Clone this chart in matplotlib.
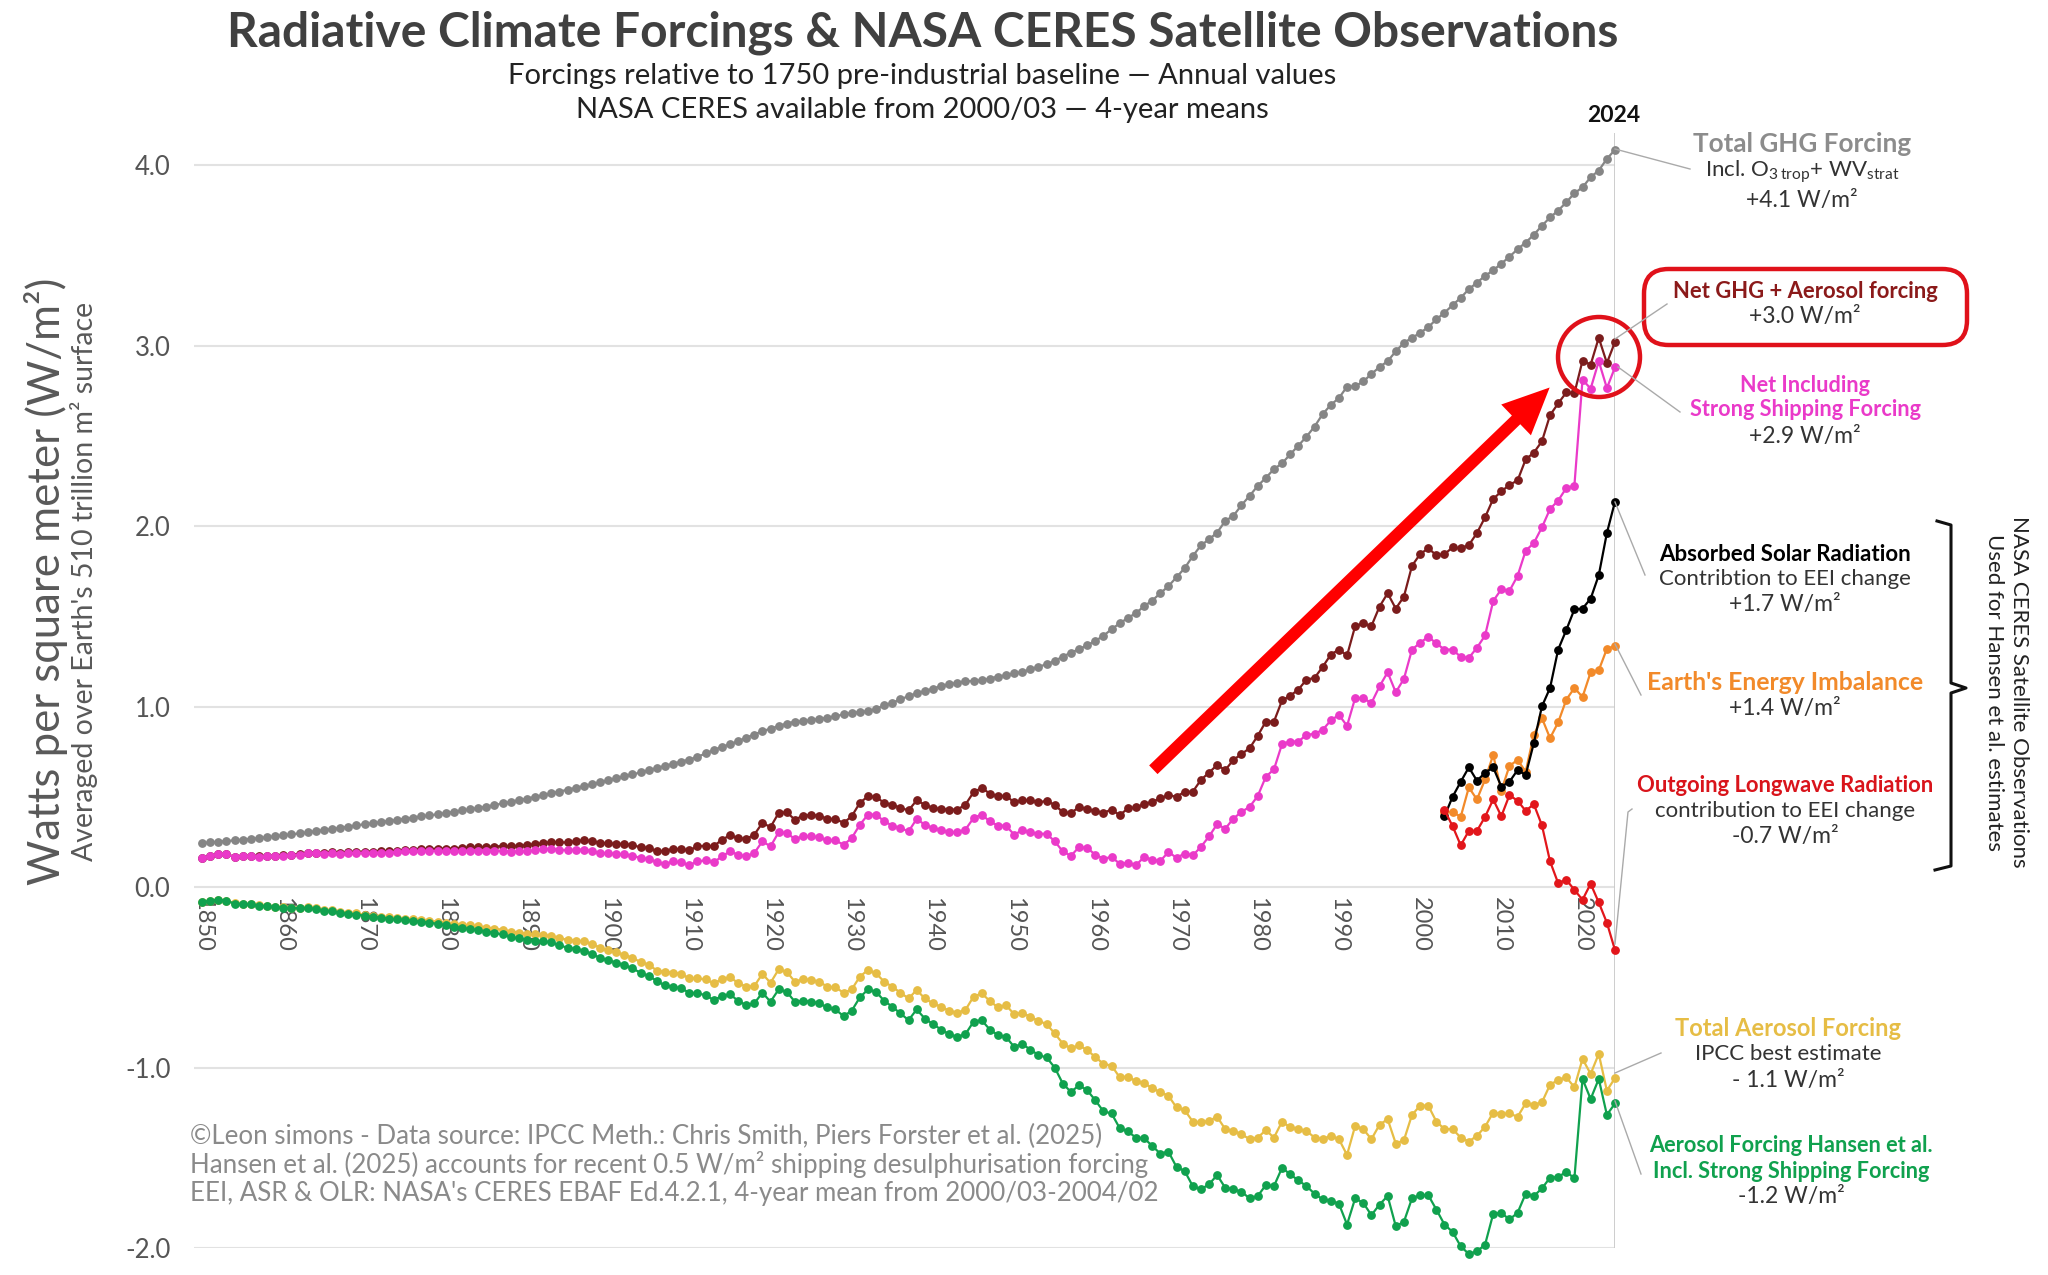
import numpy as np
import matplotlib
matplotlib.use("Agg")
import matplotlib.pyplot as plt
from matplotlib.patches import FancyBboxPatch, Ellipse, FancyArrowPatch
from matplotlib.lines import Line2D

plt.rcParams['font.family'] = ['Lato', 'DejaVu Sans']
plt.rcParams['mathtext.fontset'] = 'custom'
plt.rcParams['mathtext.rm'] = 'Lato'

# ---- data (W/m2) ----
years = list(range(1850, 2025))
ceres_years = list(range(2003, 2025))

ghg_total = [
    0.244, 0.248, 0.252, 0.256, 0.259, 0.264, 0.268, 0.272, 0.277, 0.282,
    0.288, 0.293, 0.298, 0.304, 0.310, 0.316, 0.322, 0.329, 0.335, 0.342,
    0.349, 0.355, 0.361, 0.367, 0.373, 0.380, 0.386, 0.392, 0.398, 0.404,
    0.411, 0.418, 0.425, 0.432, 0.439, 0.446, 0.455, 0.464, 0.473, 0.482,
    0.491, 0.500, 0.510, 0.520, 0.530, 0.540, 0.550, 0.560, 0.570, 0.581,
    0.592, 0.603, 0.614, 0.625, 0.636, 0.648, 0.660, 0.672, 0.684, 0.696,
    0.707, 0.722, 0.741, 0.759, 0.778, 0.791, 0.809, 0.828, 0.846, 0.865,
    0.878, 0.893, 0.907, 0.917, 0.920, 0.926, 0.933, 0.939, 0.948, 0.957,
    0.967, 0.970, 0.976, 0.989, 1.007, 1.022, 1.041, 1.059, 1.074, 1.087,
    1.100, 1.115, 1.124, 1.133, 1.141, 1.143, 1.146, 1.156, 1.167, 1.174,
    1.185, 1.193, 1.207, 1.222, 1.235, 1.254, 1.278, 1.300, 1.319, 1.341,
    1.365, 1.393, 1.430, 1.462, 1.492, 1.519, 1.557, 1.588, 1.629, 1.668,
    1.718, 1.768, 1.835, 1.894, 1.928, 1.965, 2.030, 2.058, 2.117, 2.169,
    2.224, 2.269, 2.317, 2.349, 2.399, 2.447, 2.497, 2.553, 2.622, 2.673,
    2.711, 2.774, 2.776, 2.803, 2.844, 2.883, 2.915, 2.970, 3.017, 3.045,
    3.072, 3.104, 3.147, 3.184, 3.226, 3.267, 3.314, 3.351, 3.388, 3.419,
    3.456, 3.494, 3.536, 3.573, 3.616, 3.666, 3.712, 3.750, 3.796, 3.846,
    3.879, 3.935, 3.972, 4.037, 4.087]

aerosol_ipcc = [
    -0.083, -0.075, -0.070, -0.074, -0.090, -0.093, -0.094, -0.100, -0.104, -0.108,
    -0.112, -0.113, -0.113, -0.112, -0.118, -0.126, -0.128, -0.138, -0.141, -0.146,
    -0.152, -0.158, -0.163, -0.168, -0.170, -0.174, -0.178, -0.182, -0.186, -0.191,
    -0.198, -0.204, -0.208, -0.212, -0.218, -0.224, -0.230, -0.236, -0.246, -0.252,
    -0.258, -0.262, -0.266, -0.270, -0.282, -0.292, -0.296, -0.300, -0.315, -0.335,
    -0.350, -0.362, -0.375, -0.392, -0.415, -0.430, -0.462, -0.470, -0.474, -0.481,
    -0.506, -0.506, -0.511, -0.533, -0.511, -0.500, -0.530, -0.552, -0.548, -0.481,
    -0.530, -0.456, -0.469, -0.524, -0.511, -0.515, -0.524, -0.552, -0.556, -0.585,
    -0.567, -0.496, -0.459, -0.478, -0.524, -0.552, -0.585, -0.617, -0.570, -0.617,
    -0.644, -0.663, -0.685, -0.696, -0.681, -0.607, -0.589, -0.630, -0.667, -0.654,
    -0.704, -0.696, -0.719, -0.741, -0.759, -0.811, -0.867, -0.894, -0.876, -0.904,
    -0.941, -0.980, -0.989, -1.054, -1.050, -1.076, -1.087, -1.113, -1.137, -1.156,
    -1.221, -1.236, -1.299, -1.304, -1.295, -1.273, -1.341, -1.351, -1.369, -1.397,
    -1.388, -1.347, -1.388, -1.299, -1.332, -1.341, -1.351, -1.388, -1.397, -1.378,
    -1.397, -1.484, -1.323, -1.341, -1.397, -1.317, -1.286, -1.421, -1.403, -1.262,
    -1.211, -1.211, -1.299, -1.341, -1.341, -1.388, -1.410, -1.378, -1.328, -1.249,
    -1.258, -1.254, -1.273, -1.198, -1.206, -1.193, -1.095, -1.069, -1.054, -1.109,
    -0.952, -1.035, -0.924, -1.128, -1.058]

aerosol_hansen = [
    -0.083, -0.075, -0.070, -0.074, -0.092, -0.094, -0.096, -0.103, -0.107, -0.111,
    -0.115, -0.116, -0.117, -0.116, -0.122, -0.130, -0.133, -0.143, -0.148, -0.152,
    -0.158, -0.165, -0.170, -0.175, -0.178, -0.182, -0.187, -0.192, -0.197, -0.203,
    -0.212, -0.220, -0.226, -0.232, -0.238, -0.246, -0.254, -0.262, -0.276, -0.284,
    -0.292, -0.296, -0.300, -0.306, -0.322, -0.336, -0.342, -0.352, -0.370, -0.392,
    -0.405, -0.418, -0.432, -0.450, -0.475, -0.492, -0.520, -0.545, -0.552, -0.561,
    -0.585, -0.589, -0.598, -0.626, -0.604, -0.593, -0.630, -0.654, -0.644, -0.585,
    -0.635, -0.567, -0.580, -0.635, -0.630, -0.635, -0.644, -0.667, -0.678, -0.715,
    -0.685, -0.611, -0.567, -0.580, -0.630, -0.663, -0.700, -0.737, -0.678, -0.728,
    -0.759, -0.789, -0.815, -0.830, -0.815, -0.746, -0.737, -0.789, -0.820, -0.830,
    -0.885, -0.870, -0.900, -0.931, -0.944, -1.000, -1.089, -1.135, -1.098, -1.126,
    -1.181, -1.243, -1.254, -1.336, -1.354, -1.388, -1.391, -1.434, -1.477, -1.466,
    -1.551, -1.573, -1.657, -1.675, -1.647, -1.596, -1.666, -1.675, -1.688, -1.725,
    -1.712, -1.651, -1.657, -1.555, -1.592, -1.625, -1.657, -1.699, -1.731, -1.737,
    -1.755, -1.870, -1.725, -1.750, -1.818, -1.759, -1.712, -1.879, -1.855, -1.725,
    -1.707, -1.707, -1.787, -1.870, -1.911, -1.991, -2.033, -2.019, -1.981, -1.811,
    -1.805, -1.842, -1.805, -1.699, -1.712, -1.670, -1.610, -1.607, -1.577, -1.614,
    -1.063, -1.174, -1.063, -1.262, -1.199]

net_ipcc = [
    0.161, 0.173, 0.182, 0.182, 0.169, 0.171, 0.174, 0.172, 0.173, 0.174,
    0.176, 0.180, 0.185, 0.192, 0.192, 0.190, 0.194, 0.191, 0.194, 0.196,
    0.197, 0.197, 0.198, 0.199, 0.203, 0.206, 0.208, 0.210, 0.212, 0.213,
    0.213, 0.214, 0.217, 0.220, 0.221, 0.222, 0.225, 0.228, 0.227, 0.230,
    0.233, 0.238, 0.244, 0.250, 0.248, 0.248, 0.254, 0.260, 0.255, 0.246,
    0.242, 0.241, 0.239, 0.233, 0.221, 0.218, 0.198, 0.202, 0.211, 0.211,
    0.204, 0.226, 0.230, 0.226, 0.263, 0.287, 0.272, 0.267, 0.291, 0.356,
    0.333, 0.411, 0.415, 0.374, 0.396, 0.400, 0.396, 0.378, 0.378, 0.356,
    0.393, 0.467, 0.504, 0.500, 0.467, 0.457, 0.439, 0.426, 0.481, 0.457,
    0.439, 0.433, 0.430, 0.430, 0.457, 0.526, 0.550, 0.519, 0.504, 0.507,
    0.470, 0.481, 0.481, 0.470, 0.478, 0.456, 0.415, 0.411, 0.444, 0.433,
    0.422, 0.412, 0.430, 0.399, 0.436, 0.442, 0.460, 0.473, 0.492, 0.510,
    0.501, 0.529, 0.529, 0.594, 0.635, 0.677, 0.649, 0.705, 0.738, 0.770,
    0.839, 0.918, 0.918, 1.035, 1.061, 1.095, 1.150, 1.160, 1.221, 1.289,
    1.317, 1.284, 1.447, 1.462, 1.447, 1.555, 1.629, 1.544, 1.610, 1.781,
    1.846, 1.878, 1.840, 1.846, 1.883, 1.878, 1.896, 1.963, 2.050, 2.152,
    2.193, 2.230, 2.254, 2.371, 2.408, 2.471, 2.616, 2.681, 2.742, 2.737,
    2.918, 2.896, 3.045, 2.905, 3.022]

net_hansen = [
    0.161, 0.173, 0.182, 0.182, 0.167, 0.170, 0.172, 0.169, 0.170, 0.171,
    0.173, 0.177, 0.181, 0.188, 0.188, 0.186, 0.189, 0.186, 0.187, 0.190,
    0.191, 0.190, 0.191, 0.192, 0.195, 0.198, 0.199, 0.200, 0.201, 0.201,
    0.199, 0.198, 0.199, 0.200, 0.201, 0.200, 0.201, 0.202, 0.197, 0.198,
    0.199, 0.204, 0.210, 0.214, 0.208, 0.204, 0.208, 0.208, 0.200, 0.189,
    0.187, 0.185, 0.182, 0.175, 0.161, 0.156, 0.140, 0.127, 0.143, 0.137,
    0.122, 0.143, 0.148, 0.137, 0.170, 0.198, 0.180, 0.170, 0.189, 0.254,
    0.226, 0.304, 0.300, 0.267, 0.281, 0.281, 0.276, 0.259, 0.259, 0.235,
    0.272, 0.346, 0.402, 0.402, 0.365, 0.341, 0.328, 0.309, 0.378, 0.346,
    0.328, 0.315, 0.304, 0.304, 0.319, 0.383, 0.402, 0.365, 0.341, 0.341,
    0.291, 0.315, 0.304, 0.296, 0.296, 0.254, 0.198, 0.174, 0.222, 0.217,
    0.180, 0.158, 0.167, 0.130, 0.134, 0.121, 0.167, 0.152, 0.145, 0.195,
    0.163, 0.186, 0.176, 0.223, 0.281, 0.349, 0.324, 0.380, 0.417, 0.445,
    0.505, 0.612, 0.653, 0.794, 0.807, 0.807, 0.844, 0.850, 0.872, 0.924,
    0.955, 0.894, 1.048, 1.048, 1.020, 1.113, 1.191, 1.080, 1.154, 1.317,
    1.354, 1.388, 1.351, 1.317, 1.317, 1.276, 1.271, 1.327, 1.395, 1.586,
    1.651, 1.642, 1.725, 1.865, 1.907, 1.994, 2.096, 2.143, 2.212, 2.226,
    2.813, 2.763, 2.915, 2.766, 2.881]

asr = [0.393, 0.501, 0.584, 0.664, 0.590, 0.634, 0.664, 0.557, 0.584, 0.649, 0.622,
       0.798, 1.002, 1.104, 1.317, 1.425, 1.540, 1.544, 1.599, 1.729, 1.963, 2.137]
eei = [0.417, 0.417, 0.390, 0.553, 0.486, 0.597, 0.733, 0.534, 0.672, 0.705, 0.640,
       0.844, 0.937, 0.826, 0.913, 1.039, 1.104, 1.054, 1.191, 1.202, 1.321, 1.336]
olr = [0.427, 0.338, 0.232, 0.312, 0.312, 0.390, 0.486, 0.393, 0.510, 0.479, 0.423,
       0.460, 0.343, 0.143, 0.022, 0.041, -0.015, -0.070, 0.019, -0.085, -0.197, -0.349]

decades = list(range(1850, 2021, 10))

# colours
c_gray = '#858585'
c_maroon = '#7B1C1C'
c_pink = '#EA3AC9'
c_yellow = '#E6BD45'
c_green = '#10A14E'
c_black = '#000000'
c_orange = '#F28A2A'
c_red = '#E2161B'

W, H = 2048, 1275
fig = plt.figure(figsize=(W / 100, H / 100), dpi=100)

def P(x, y):
    return (x / W, 1 - y / H)

ax = fig.add_axes([194 / W, 27 / H, (1615 - 194) / W, (1248 - 133) / H])
ax.set_xlim(1849, 2024)
ax.set_ylim(-2.0, 4.18)
for s in ax.spines.values():
    s.set_visible(False)
ax.set_yticks([-2, -1, 0, 1, 2, 3, 4])
ax.set_yticklabels(['-2.0', '-1.0', '0.0', '1.0', '2.0', '3.0', '4.0'])
ax.tick_params(axis='y', length=0, pad=17, labelsize=18.5, labelcolor='#555555')
ax.set_xticks([])
ax.yaxis.grid(True, color='#E2E2E2', lw=1.5)
ax.set_axisbelow(True)
ax.axvline(2024, color='#C9C9C9', lw=1.3, zorder=1)

for yr in decades:
    ax.text(yr, -0.055, str(yr), rotation=-90, ha='center', va='top',
            fontsize=17, color='#555555')

kw = dict(marker='o', markersize=5.3, lw=1.6, clip_on=False)
ax.plot(years, ghg_total, color=c_gray, zorder=3, **kw)
ax.plot(years, aerosol_ipcc, color=c_yellow, zorder=3, **kw)
ax.plot(years, aerosol_hansen, color=c_green, zorder=4, **kw)
ax.plot(years, net_ipcc, color=c_maroon, zorder=3, **kw)
ax.plot(years, net_hansen, color=c_pink, zorder=4, **kw)
ax.plot(ceres_years, eei, color=c_orange, zorder=5, **kw)
ax.plot(ceres_years, asr, color=c_black, zorder=6, **kw)
ax.plot(ceres_years, olr, color=c_red, zorder=7, **kw)

# big red arrow
ax.add_patch(FancyArrowPatch((1966.9, 0.64), (2016.2, 2.78),
                             arrowstyle='simple,head_width=2.2,head_length=2.4,tail_width=0.62',
                             mutation_scale=14, color='#FF0000', lw=0, zorder=8))

# title block
fig.text(*P(923, 33), 'Radiative Climate Forcings & NASA CERES Satellite Observations',
         ha='center', va='center', fontsize=34.5, fontweight='bold', color='#404040')
fig.text(*P(922, 76), 'Forcings relative to 1750 pre-industrial baseline \u2014 Annual values',
         ha='center', va='center', fontsize=21, color='#222222')
fig.text(*P(922, 110), 'NASA CERES available from 2000/03 \u2014 4-year means',
         ha='center', va='center', fontsize=21, color='#222222')
fig.text(*P(1614, 115), '2024', ha='center', va='center', fontsize=16.5,
         fontweight='bold', color='#111111')

# axis titles
fig.text(*P(46, 581), 'Watts per square meter (W/m\u00b2)', rotation=90,
         ha='center', va='center', fontsize=31.5, color='#595959')
fig.text(*P(84, 581), "Averaged over Earth's 510 trillion m\u00b2 surface", rotation=90,
         ha='center', va='center', fontsize=20.5, color='#595959')

# source note
notes = ['\u00a9Leon simons - Data source: IPCC Meth.: Chris Smith, Piers Forster et al. (2025)',
         'Hansen et al. (2025) accounts for recent 0.5 W/m\u00b2 shipping desulphurisation forcing',
         "EEI, ASR & OLR: NASA's CERES EBAF Ed.4.2.1, 4-year mean from 2000/03-2004/02"]
for i, line in enumerate(notes):
    fig.text(*P(190, 1136 + 29 * i), line, ha='left', va='center', fontsize=18.6, color='#8A8A8A')

# right-hand labels
def label(x, y, s, color, size, bold=False):
    fig.text(*P(x, y), s, ha='center', va='center', fontsize=size, color=color,
             fontweight='bold' if bold else 'normal')

sub = '#333333'
label(1802, 144, 'Total GHG Forcing', '#8C8C8C', 18.8, True)
label(1802, 172, r'Incl. O$_{3\,\mathrm{trop}}$+ WV$_{\mathrm{strat}}$', sub, 16)
label(1802, 200, '+4.1 W/m\u00b2', sub, 16.5)
label(1805, 292, 'Net GHG + Aerosol forcing', '#8B1A1A', 15.8, True)
label(1805, 317, '+3.0 W/m\u00b2', sub, 16.5)
label(1805, 385, 'Net Including', c_pink, 15.6, True)
label(1805, 410, 'Strong Shipping Forcing', c_pink, 15.6, True)
label(1805, 436, '+2.9 W/m\u00b2', sub, 16.5)
label(1785, 554, 'Absorbed Solar Radiation', '#000000', 16, True)
label(1785, 579, 'Contribtion to EEI change', sub, 16)
label(1785, 605, '+1.7 W/m\u00b2', sub, 16.5)
label(1785, 682, "Earth's Energy Imbalance", c_orange, 17.8, True)
label(1785, 709, '+1.4 W/m\u00b2', sub, 16.5)
label(1785, 785, 'Outgoing Longwave Radiation', '#D9141B', 15.8, True)
label(1785, 811, 'contribution to EEI change', sub, 16)
label(1785, 837, '-0.7 W/m\u00b2', sub, 16.5)
label(1788, 1028, 'Total Aerosol Forcing', c_yellow, 17, True)
label(1788, 1054, 'IPCC best estimate', sub, 16)
label(1788, 1080, '- 1.1 W/m\u00b2', sub, 16.5)
label(1791, 1145, 'Aerosol Forcing Hansen et al.', c_green, 15.7, True)
label(1791, 1172, 'Incl. Strong Shipping Forcing', c_green, 15.7, True)
label(1791, 1196, '-1.2 W/m\u00b2', sub, 16.5)

# leader lines
leaders = [[(1615, 149), (1690, 169)],
           [(1615, 339), (1667, 304)],
           [(1618, 367), (1680, 412)],
           [(1615, 502), (1645, 575)],
           [(1615, 644), (1641, 695)],
           [(1615, 944), (1628, 812), (1632, 809)],
           [(1615, 1073), (1661, 1053)],
           [(1615, 1101), (1641, 1174)]]
for pts in leaders:
    xs = [P(*p)[0] for p in pts]
    ys = [P(*p)[1] for p in pts]
    fig.add_artist(Line2D(xs, ys, color='#AAAAAA', lw=1.0))

# red box and circle
x0, y0 = P(1644, 345)
x1, y1 = P(1967, 269)
fig.add_artist(FancyBboxPatch((x0, y0), x1 - x0, y1 - y0, transform=fig.transFigure,
                              boxstyle='round,pad=0,rounding_size=0.012',
                              mutation_aspect=W / H, fill=False, ec='#E0111A', lw=3.2))
cx, cy = P(1599, 357)
fig.add_artist(Ellipse((cx, cy), 82 / W, 80 / H, transform=fig.transFigure,
                       fill=False, ec='#E0111A', lw=3.2))

# CERES brace
bx = [1937, 1951, 1951, 1966, 1951, 1951, 1935]
by = [521, 525, 683, 688, 693, 866, 870]
fig.add_artist(Line2D([P(x, 0)[0] for x in bx], [P(0, y)[1] for y in by],
                      color='#111111', lw=2.2))
fig.text(*P(2019, 692), 'NASA CERES Satellite Observations', rotation=-90,
         ha='center', va='center', fontsize=16, color='#222222')
fig.text(*P(1994, 692), 'Used for Hansen et al. estimates', rotation=-90,
         ha='center', va='center', fontsize=16, color='#222222')

fig.savefig('out.png', dpi=100, facecolor='white')
